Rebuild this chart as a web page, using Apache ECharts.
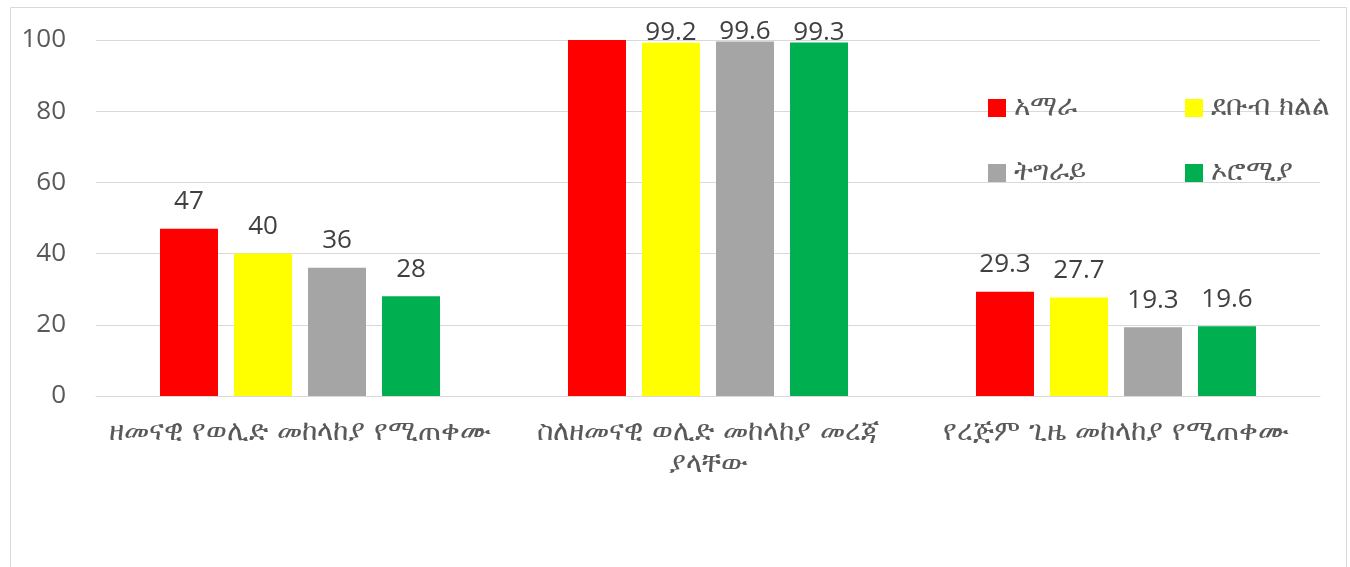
<!DOCTYPE html>
<html>
<head>
<meta charset="utf-8">
<script src="https://cdn.jsdelivr.net/npm/echarts@6/dist/echarts.min.js"></script>
<style>
  html, body { margin: 0; padding: 0; background: #ffffff; }
  #chart { width: 1350px; height: 567px; }
</style>
</head>
<body>
<div id="chart"></div>
<script>
// Categories (x axis); the long one wraps onto a second line
const categories = [
  'ዘመናዊ የወሊድ መከላከያ የሚጠቀሙ',
  'ስለዘመናዊ ወሊድ መከላከያ መረጃ\nያላቸው',
  'የረጅም ጊዜ መከላከያ የሚጠቀሙ'
];

// Regions (series names)
const regions = ['አማራ', 'ደቡብ ክልል', 'ትግራይ', 'ኦሮሚያ'];

// Values per region, one per category
const amhara = [47, 100, 29.3];
const debub = [40, 99.2, 27.7];
const tigray = [36, 99.6, 19.3];
const oromia = [28, 99.3, 19.6];

// Y axis ticks
const yTicks = [0, 20, 40, 60, 80, 100];

const colors = ['#FF0000', '#FFFF00', '#A5A5A5', '#00B050'];
const seriesValues = [amhara, debub, tigray, oromia];

const ethFont = "'DejaVu Sans', 'Noto Sans', sans-serif";
const numFont = "'Open Sans', 'Noto Sans', sans-serif";

function buildData(values) {
  return values.map(function (v) {
    const item = { value: v };
    if (v >= 99) {
      // labels near the top are pulled down to stay inside the frame
      item.label = { distance: -3 };
      if (v >= 100) item.label.show = false;
    }
    return item;
  });
}

const legendText = { fontFamily: ethFont, fontSize: 28, color: '#595959', lineHeight: 26, padding: [0, 0, 0, 3] };

const chart = echarts.init(document.getElementById('chart'));

chart.setOption({
  animation: false,
  backgroundColor: '#ffffff',
  graphic: [{
    type: 'rect',
    shape: { x: 10.5, y: 7.5, width: 1336, height: 620 },
    style: { fill: 'none', stroke: '#d9d9d9', lineWidth: 1 },
    silent: true,
    z: -1
  }],
  legend: [{
    data: [regions[0], regions[2]],
    orient: 'vertical',
    left: 983,
    top: 89,
    itemWidth: 18,
    itemHeight: 18,
    itemGap: 37,
    icon: 'rect',
    textStyle: legendText
  }, {
    data: [regions[1], regions[3]],
    orient: 'vertical',
    left: 1180,
    top: 89,
    itemWidth: 18,
    itemHeight: 18,
    itemGap: 37,
    icon: 'rect',
    textStyle: legendText
  }],
  grid: { left: 96, right: 30, top: 40, bottom: 171, containLabel: false },
  xAxis: {
    type: 'category',
    data: categories,
    axisTick: { show: false },
    axisLine: { lineStyle: { color: '#d9d9d9', width: 1 } },
    axisLabel: {
      fontFamily: ethFont,
      fontSize: 28,
      color: '#595959',
      lineHeight: 32,
      margin: 21,
      interval: 0
    }
  },
  yAxis: {
    type: 'value',
    min: yTicks[0],
    max: yTicks[yTicks.length - 1],
    interval: yTicks[1] - yTicks[0],
    axisLine: { show: false },
    axisTick: { show: false },
    splitLine: { lineStyle: { color: '#d9d9d9', width: 1 } },
    axisLabel: { fontFamily: numFont, fontSize: 26, color: '#595959', margin: 30 }
  },
  series: regions.map(function (name, i) {
    return {
      name: name,
      type: 'bar',
      barWidth: 58,
      barGap: '27.6%',
      itemStyle: { color: colors[i] },
      label: {
        show: true,
        position: 'top',
        distance: 14,
        fontFamily: numFont,
        fontSize: 26,
        color: '#404040'
      },
      data: buildData(seriesValues[i])
    };
  })
});
</script>
</body>
</html>
